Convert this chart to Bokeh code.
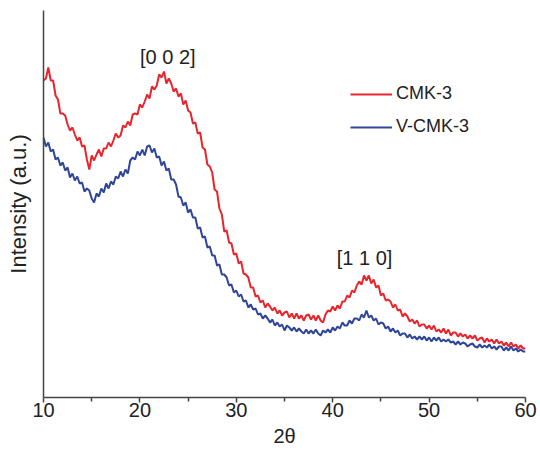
from bokeh.plotting import figure
from bokeh.models import Range1d, FixedTicker, Label, Legend, LegendItem
from bokeh.embed import file_html
from bokeh.resources import INLINE

# 2-theta sampling grid (degrees)
two_theta = [10 + 0.25 * i for i in range(201)]

cmk3 = [
    317, 319, 330, 317, 317, 302, 298, 284,
    284, 282, 273, 267, 270, 263, 257, 260,
    251, 252, 238, 228, 242, 237, 243, 248,
    241, 249, 249, 255, 251, 257, 264, 260,
    262, 272, 270, 276, 272, 283, 284, 283,
    293, 290, 296, 303, 299, 311, 308, 312,
    323, 320, 326, 314, 319, 314, 306, 309,
    301, 304, 293, 297, 287, 285, 274, 275,
    264, 265, 250, 248, 233, 231, 225, 208,
    206, 189, 183, 166, 167, 155, 154, 143,
    144, 134, 136, 124, 123, 120, 110, 110,
    101, 102, 95, 97, 90, 94, 91, 87,
    90, 84, 87, 82, 85, 86, 80, 84,
    79, 84, 79, 82, 77, 82, 83, 78,
    82, 77, 82, 77, 75, 83, 87, 86,
    91, 87, 92, 89, 96, 96, 102, 100,
    107, 105, 112, 116, 113, 122, 117, 122,
    114, 118, 110, 112, 102, 104, 97, 98,
    96, 90, 93, 87, 88, 81, 84, 81,
    76, 78, 74, 77, 71, 73, 73, 69,
    72, 68, 72, 66, 68, 65, 69, 64,
    68, 62, 65, 65, 61, 64, 61, 63,
    59, 62, 59, 62, 57, 59, 60, 55,
    59, 56, 58, 54, 58, 54, 56, 52,
    55, 51, 55, 51, 53, 49, 52, 49,
    49,
]

vcmk3 = [
    260, 251, 255, 246, 248, 238, 240, 232,
    235, 227, 230, 220, 224, 217, 221, 214,
    215, 206, 209, 207, 199, 195, 204, 201,
    209, 205, 214, 209, 216, 213, 221, 219,
    226, 221, 228, 224, 237, 240, 238, 246,
    242, 248, 242, 251, 252, 245, 249, 240,
    241, 232, 236, 227, 229, 218, 218, 213,
    201, 200, 192, 195, 185, 188, 180, 180,
    169, 170, 160, 161, 150, 151, 142, 142,
    132, 133, 123, 123, 120, 112, 113, 105,
    107, 101, 103, 96, 97, 90, 93, 88,
    89, 83, 84, 79, 82, 79, 75, 78,
    72, 75, 71, 73, 67, 72, 70, 67,
    70, 66, 69, 66, 64, 68, 64, 67,
    64, 68, 64, 62, 67, 65, 68, 65,
    70, 67, 71, 69, 75, 72, 72, 77,
    74, 79, 79, 77, 83, 80, 87, 80,
    82, 77, 79, 73, 75, 74, 69, 71,
    66, 69, 65, 67, 62, 64, 64, 60,
    63, 59, 61, 58, 61, 58, 61, 57,
    60, 56, 60, 57, 60, 56, 58, 56,
    58, 55, 56, 53, 56, 53, 55, 54,
    51, 53, 54, 51, 50, 53, 50, 52,
    50, 53, 49, 51, 48, 51, 51, 47,
    50, 47, 51, 47, 49, 46, 48, 46,
    46,
]

series_names = ["CMK-3", "V-CMK-3"]
series_colors = ["#e8242c", "#2f4599"]

x_ticks = [10, 20, 30, 40, 50, 60]
x_minor_ticks = [15, 25, 35, 45, 55]
peak_labels = ["[0 0 2]", "[1 1 0]"]
peak_pos = [(22.9, 341), (43.3, 140)]

FONT = "Liberation Sans"
TXT = "#222222"
AX = "#444444"

p = figure(
    frame_width=482, frame_height=387,
    min_border_left=43, min_border_right=15, min_border_top=10, min_border_bottom=10,
    x_range=Range1d(10, 60), y_range=Range1d(0, 387),
    output_backend="svg", toolbar_location=None,
)
p.outline_line_color = None
p.xgrid.visible = False
p.ygrid.visible = False
p.background_fill_color = "white"
p.border_fill_color = "white"

r1 = p.line(two_theta, cmk3, line_color=series_colors[0], line_width=2)
r2 = p.line(two_theta, vcmk3, line_color=series_colors[1], line_width=2)

# x axis
p.xaxis.ticker = FixedTicker(ticks=x_ticks, minor_ticks=x_minor_ticks)
p.xaxis.axis_label = "2θ"
p.xaxis.axis_label_text_font = FONT
p.xaxis.axis_label_text_font_style = "normal"
p.xaxis.axis_label_text_font_size = "20px"
p.xaxis.axis_label_text_color = TXT
p.xaxis.axis_label_standoff = 5
p.xaxis.major_label_text_font = FONT
p.xaxis.major_label_text_font_size = "20px"
p.xaxis.major_label_text_color = TXT
p.xaxis.major_label_standoff = 0
p.xaxis.axis_line_color = AX
p.xaxis.axis_line_width = 1.5
p.xaxis.major_tick_line_color = AX
p.xaxis.major_tick_line_width = 1.5
p.xaxis.major_tick_in = 0
p.xaxis.major_tick_out = 5
p.xaxis.minor_tick_line_color = AX
p.xaxis.minor_tick_line_width = 1.5
p.xaxis.minor_tick_in = 0
p.xaxis.minor_tick_out = 4

# y axis
p.yaxis.ticker = FixedTicker(ticks=[])
p.yaxis.axis_label = "Intensity (a.u.)"
p.yaxis.axis_label_text_font = FONT
p.yaxis.axis_label_text_font_style = "normal"
p.yaxis.axis_label_text_font_size = "22px"
p.yaxis.axis_label_text_color = TXT
p.yaxis.axis_label_standoff = 13
p.yaxis.axis_line_color = AX
p.yaxis.axis_line_width = 1.5
p.yaxis.major_tick_line_color = None
p.yaxis.minor_tick_line_color = None

for txt, (px, py) in zip(peak_labels, peak_pos):
    p.add_layout(Label(x=px, y=py, text=txt, text_align="center", text_baseline="middle",
                       text_font=FONT, text_font_size="20px", text_color=TXT))

legend = Legend(
    items=[LegendItem(label=series_names[0], renderers=[r1]),
           LegendItem(label=series_names[1], renderers=[r2])],
    location=(307, 260),
    glyph_width=42, glyph_height=20, label_height=20,
    spacing=12, padding=0, margin=0, label_standoff=4,
    label_text_font=FONT, label_text_font_size="18px", label_text_color=TXT,
    border_line_color=None, background_fill_alpha=0,
)
p.add_layout(legend)

open("out.html", "w").write(file_html(p, INLINE))
